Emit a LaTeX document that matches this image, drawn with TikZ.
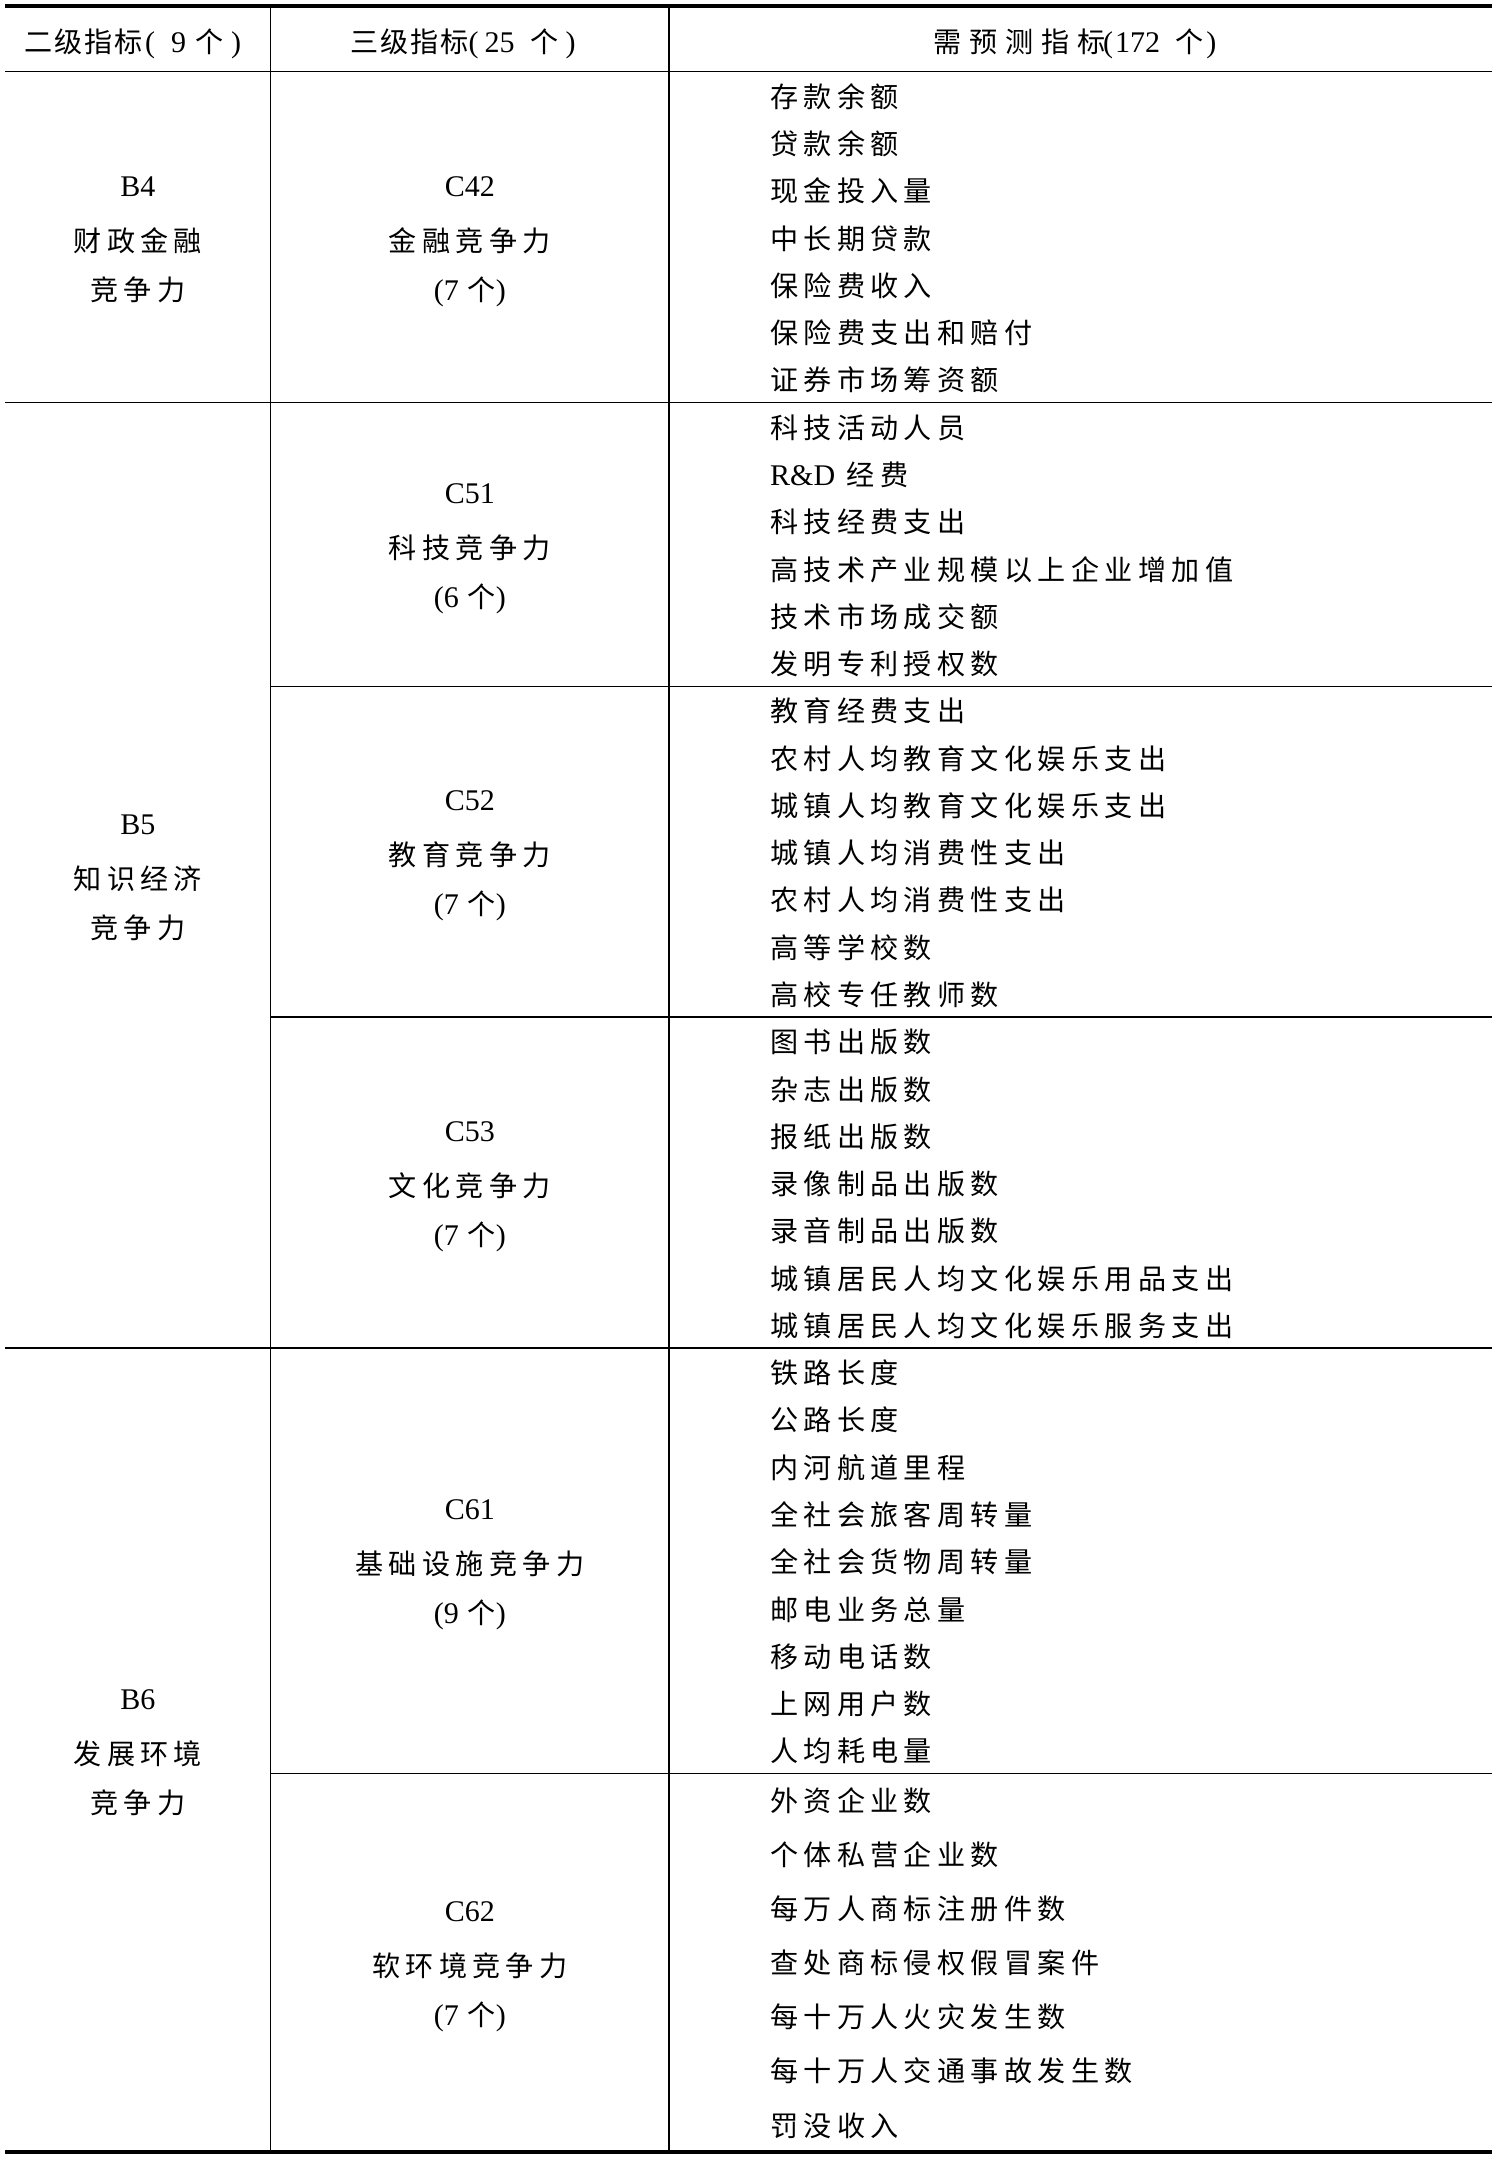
\documentclass[tikz,border=0pt]{standalone}
\usepackage{fontspec}
\setmainfont{Liberation Serif}
\newfontfamily\cjk{Noto Sans CJK SC}[Scale=0.937,LetterSpace=19]
\newfontfamily\cjkA{Noto Sans CJK SC}[Scale=0.937,LetterSpace=7]
\newfontfamily\cjkC{Noto Sans CJK SC}[Scale=0.937,LetterSpace=28]
\newcommand\latf{\fontsize{30}{34}\selectfont}
\newcommand\gapz{\hspace{9pt}}
\tikzset{
  thinrule/.style={line width=1.4pt, black},
  thickrule/.style={line width=4pt, black},
  hd/.style={anchor=base west, inner sep=0pt, font=\latf},
  cl/.style={anchor=base, inner sep=0pt, font=\latf},
  item/.style={anchor=base west, inner sep=0pt, font=\latf\cjk},
}
\newcommand\cellthree[6]{%
  \node[cl] (#1a) at (#2,#3-41) {#4};
  \node[cl] (#1b) at (#2,#3+14) {#5};
  \node[cl] (#1c) at (#2,#3+63) {#6};
}
\begin{document}
\begin{tikzpicture}[x=1pt,y=-1pt]
\useasboundingbox (0,0) rectangle (1496,2158);
% rules
\draw[thickrule] (5,6) -- (1492,6);
\draw[thickrule] (5,2152) -- (1492,2152);
\draw[thinrule] (5,71.7) -- (1492,71.7);
\draw[thinrule] (5,402.6) -- (1492,402.6);
\draw[thinrule] (270.7,686.2) -- (1492,686.2);
\draw[thinrule] (270.7,1017.1) -- (1492,1017.1);
\draw[thinrule] (5,1348) -- (1492,1348);
\draw[thinrule] (270.7,1773.4) -- (1492,1773.4);
\draw[thinrule] (270.7,6) -- (270.7,2152);
\draw[thinrule] (669,6) -- (669,2152);
% header
\node[hd] (h1) at (24,52) {{\cjkA 二级指标}\hspace{2.5pt}(\hspace{16pt}9\hspace{9pt}{\cjk 个}\hspace{8pt})};
\node[hd] (h2) at (350,52) {{\cjkA 三级指标}(\hspace{6pt}25\hspace{16pt}{\cjk 个}\hspace{7pt})};
\node[hd] (h3) at (933,52) {{\cjkC 需预测指标}\hspace{-2pt}(\hspace{2pt}172\hspace{15pt}{\cjk 个}\hspace{3pt})};
% column 1
\cellthree{b4}{137.9}{237.15}{B4}{\cjk 财政金融}{\cjk 竞争力}
\cellthree{b5}{137.9}{875.3}{B5}{\cjk 知识经济}{\cjk 竞争力}
\cellthree{b6}{137.9}{1750}{B6}{\cjk 发展环境}{\cjk 竞争力}
% column 2
\cellthree{c42}{469.9}{237.15}{C42}{\cjk 金融竞争力}{(7\gapz{\cjk 个})}
\cellthree{c51}{469.9}{544.4}{C51}{\cjk 科技竞争力}{(6\gapz{\cjk 个})}
\cellthree{c52}{469.9}{851.65}{C52}{\cjk 教育竞争力}{(7\gapz{\cjk 个})}
\cellthree{c53}{469.9}{1182.55}{C53}{\cjk 文化竞争力}{(7\gapz{\cjk 个})}
\cellthree{c61}{469.9}{1560.7}{C61}{\cjk 基础设施竞争力}{(9\gapz{\cjk 个})}
\cellthree{c62}{469.9}{1962.7}{C62}{\cjk 软环境竞争力}{(7\gapz{\cjk 个})}
% column 3
\foreach \t [count=\k] in {存款余额,贷款余额,现金投入量,中长期贷款,保险费收入,保险费支出和赔付,证券市场筹资额}
  \node[item] (ia-\k) at (770,{71.7+(\k-0.5)*47.27+12}) {\t};
\foreach \t [count=\k] in {科技活动人员,{{\rmfamily R\&D} 经费},科技经费支出,高技术产业规模以上企业增加值,技术市场成交额,发明专利授权数}
  \node[item] (ib-\k) at (770,{402.6+(\k-0.5)*47.27+12}) {\t};
\foreach \t [count=\k] in {教育经费支出,农村人均教育文化娱乐支出,城镇人均教育文化娱乐支出,城镇人均消费性支出,农村人均消费性支出,高等学校数,高校专任教师数}
  \node[item] (ic-\k) at (770,{686.2+(\k-0.5)*47.27+12}) {\t};
\foreach \t [count=\k] in {图书出版数,杂志出版数,报纸出版数,录像制品出版数,录音制品出版数,城镇居民人均文化娱乐用品支出,城镇居民人均文化娱乐服务支出}
  \node[item] (id-\k) at (770,{1017.1+(\k-0.5)*47.27+12}) {\t};
\foreach \t [count=\k] in {铁路长度,公路长度,内河航道里程,全社会旅客周转量,全社会货物周转量,邮电业务总量,移动电话数,上网用户数,人均耗电量}
  \node[item] (ie-\k) at (770,{1348+(\k-0.5)*47.27+12}) {\t};
\foreach \t [count=\k] in {外资企业数,个体私营企业数,每万人商标注册件数,查处商标侵权假冒案件,每十万人火灾发生数,每十万人交通事故发生数,罚没收入}
  \node[item] (if-\k) at (770,{1773.4+(\k-0.5)*54.09+11}) {\t};
\end{tikzpicture}
\end{document}
